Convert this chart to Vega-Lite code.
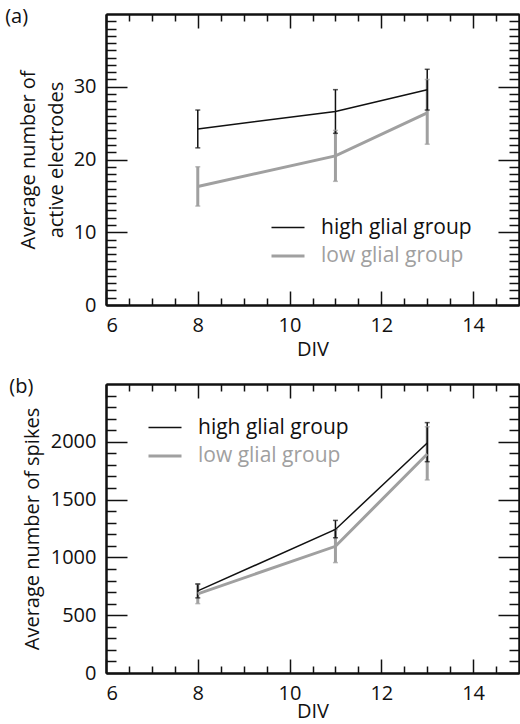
{
  "$schema": "https://vega.github.io/schema/vega-lite/v6.json",
  "padding": {"left": 5, "top": 7, "right": 0, "bottom": 0},
  "spacing": 18,
  "resolve": {"scale": {"color": "independent", "strokeWidth": "independent"}, "legend": {"color": "independent"}},
  "config": {
    "font": "Open Sans",
    "view": {"stroke": null},
    "axis": {
      "grid": false,
      "labelFont": "Open Sans",
      "labelFontSize": 20,
      "labelColor": "#111",
      "titleFont": "Open Sans",
      "titleFontSize": 20,
      "titleFontWeight": "normal",
      "titleColor": "#111",
      "titleLineHeight": 28,
      "domainColor": "#111",
      "domainWidth": 2,
      "tickColor": "#111",
      "tickWidth": 1.5
    },
    "legend": {
      "labelFont": "Open Sans",
      "labelFontSize": 21,
      "symbolType": "stroke",
      "symbolSize": 1089,
      "symbolStrokeWidth": 2,
      "labelOffset": 15,
      "rowPadding": -8,
      "title": null
    },
    "title": {"font": "Open Sans", "fontSize": 20, "fontWeight": "normal", "color": "#111"}
  },
  "datasets": {
    "rows": [
      {"panel": "a", "group": "low glial group", "div": 8, "mean": 16.3, "lo": 13.6, "hi": 19.0},
      {"panel": "a", "group": "low glial group", "div": 11, "mean": 20.5, "lo": 17.0, "hi": 24.0},
      {"panel": "a", "group": "low glial group", "div": 13, "mean": 26.4, "lo": 22.1, "hi": 31.0},
      {"panel": "a", "group": "high glial group", "div": 8, "mean": 24.2, "lo": 21.6, "hi": 26.8},
      {"panel": "a", "group": "high glial group", "div": 11, "mean": 26.6, "lo": 23.6, "hi": 29.6},
      {"panel": "a", "group": "high glial group", "div": 13, "mean": 29.6, "lo": 26.8, "hi": 32.4},
      {"panel": "b", "group": "low glial group", "div": 8, "mean": 685, "lo": 600, "hi": 770},
      {"panel": "b", "group": "low glial group", "div": 11, "mean": 1096, "lo": 955, "hi": 1240},
      {"panel": "b", "group": "low glial group", "div": 13, "mean": 1895, "lo": 1670, "hi": 2130},
      {"panel": "b", "group": "high glial group", "div": 8, "mean": 710, "lo": 650, "hi": 770},
      {"panel": "b", "group": "high glial group", "div": 11, "mean": 1242, "lo": 1170, "hi": 1320},
      {"panel": "b", "group": "high glial group", "div": 13, "mean": 1990, "lo": 1828, "hi": 2166}
    ]
  },
  "vconcat": [
    {
      "width": 413,
      "height": 291,
      "title": {"text": "(a)", "anchor": "start", "frame": "bounds", "offset": -14, "dx": -13},
      "data": {"name": "rows"},
      "transform": [{"filter": "datum.panel === 'a'"}],
      "resolve": {"axis": {"x": "independent", "y": "independent"}},
      "layer": [
        {
          "mark": {"type": "rule"},
          "encoding": {
            "x": {"field": "div", "type": "quantitative", "scale": {"domain": [6, 15], "nice": false, "zero": false},
              "axis": {"orient": "top", "labels": false, "title": null, "values": [6, 8, 10, 12, 14], "tickSize": -14}},
            "y": {"field": "lo", "type": "quantitative", "scale": {"domain": [0, 40], "nice": false},
              "axis": {"orient": "right", "labels": false, "title": null, "values": [0, 10, 20, 30], "tickSize": -21}},
            "y2": {"field": "hi"},
            "color": {"field": "group", "type": "nominal", "scale": {"domain": ["high glial group", "low glial group"], "range": ["#111111", "#a0a0a0"]}},
            "strokeWidth": {"field": "group", "type": "nominal", "scale": {"domain": ["high glial group", "low glial group"], "range": [1.5, 3]}, "legend": null}
          }
        },
        {
          "mark": {"type": "tick", "orient": "horizontal", "size": 5, "thickness": 1.5},
          "encoding": {
            "x": {"field": "div", "type": "quantitative",
              "axis": {"orient": "bottom", "labels": false, "title": null, "values": [6.5,7,7.5,8.5,9,9.5,10.5,11,11.5,12.5,13,13.5,14.5], "tickSize": -7}},
            "y": {"field": "lo", "type": "quantitative",
              "axis": {"orient": "left", "labels": false, "title": null, "values": [1,2,3,4,5,6,7,8,9,11,12,13,14,15,16,17,18,19,21,22,23,24,25,26,27,28,29,31,32,33,34,35,36,37,38,39], "tickSize": -10}},
            "color": {"field": "group", "type": "nominal"}
          }
        },
        {
          "mark": {"type": "tick", "orient": "horizontal", "size": 5, "thickness": 1.5},
          "encoding": {
            "x": {"field": "div", "type": "quantitative",
              "axis": {"orient": "top", "labels": false, "title": null, "values": [6.5,7,7.5,8.5,9,9.5,10.5,11,11.5,12.5,13,13.5,14.5], "tickSize": -7}},
            "y": {"field": "hi", "type": "quantitative",
              "axis": {"orient": "right", "labels": false, "title": null, "values": [1,2,3,4,5,6,7,8,9,11,12,13,14,15,16,17,18,19,21,22,23,24,25,26,27,28,29,31,32,33,34,35,36,37,38,39], "tickSize": -10}},
            "color": {"field": "group", "type": "nominal"}
          }
        },
        {
          "mark": {"type": "line"},
          "encoding": {
            "x": {"field": "div", "type": "quantitative", "title": "DIV",
              "axis": {"orient": "bottom", "labelPadding": 24, "values": [6, 8, 10, 12, 14], "format": "d", "tickSize": -14}},
            "y": {"field": "mean", "type": "quantitative", "title": ["Average number of", "active electrodes"],
              "axis": {"orient": "left", "labelPadding": 31, "titlePadding": 7, "values": [0, 10, 20, 30], "tickSize": -21}},
            "color": {"field": "group", "type": "nominal",
              "legend": {"orient": "none", "legendX": 164, "legendY": 196,
                "encode": {"labels": {"update": {"fill": {"signal": "datum.value === 'low glial group' ? '#a0a0a0' : '#111111'"}}}}}},
            "strokeWidth": {"field": "group", "type": "nominal", "legend": null}
          }
        }
      ]
    },
    {
      "width": 413,
      "height": 289,
      "title": {"text": "(b)", "anchor": "start", "frame": "bounds", "offset": -14, "dx": -13},
      "data": {"name": "rows"},
      "transform": [{"filter": "datum.panel === 'b'"}],
      "resolve": {"axis": {"x": "independent", "y": "independent"}},
      "layer": [
        {
          "mark": {"type": "rule"},
          "encoding": {
            "x": {"field": "div", "type": "quantitative", "scale": {"domain": [6, 15], "nice": false, "zero": false},
              "axis": {"orient": "top", "labels": false, "title": null, "values": [6, 8, 10, 12, 14], "tickSize": -14}},
            "y": {"field": "lo", "type": "quantitative", "scale": {"domain": [0, 2500], "nice": false},
              "axis": {"orient": "right", "labels": false, "title": null, "values": [0, 500, 1000, 1500, 2000], "tickSize": -21}},
            "y2": {"field": "hi"},
            "color": {"field": "group", "type": "nominal", "scale": {"domain": ["high glial group", "low glial group"], "range": ["#111111", "#a0a0a0"]}},
            "strokeWidth": {"field": "group", "type": "nominal", "scale": {"domain": ["high glial group", "low glial group"], "range": [1.5, 3]}, "legend": null}
          }
        },
        {
          "mark": {"type": "tick", "orient": "horizontal", "size": 5, "thickness": 1.5},
          "encoding": {
            "x": {"field": "div", "type": "quantitative",
              "axis": {"orient": "bottom", "labels": false, "title": null, "values": [6.5,7,7.5,8.5,9,9.5,10.5,11,11.5,12.5,13,13.5,14.5], "tickSize": -7}},
            "y": {"field": "lo", "type": "quantitative",
              "axis": {"orient": "left", "labels": false, "title": null, "values": [100,200,300,400,600,700,800,900,1100,1200,1300,1400,1600,1700,1800,1900,2100,2200,2300,2400], "tickSize": -10}},
            "color": {"field": "group", "type": "nominal"}
          }
        },
        {
          "mark": {"type": "tick", "orient": "horizontal", "size": 5, "thickness": 1.5},
          "encoding": {
            "x": {"field": "div", "type": "quantitative",
              "axis": {"orient": "top", "labels": false, "title": null, "values": [6.5,7,7.5,8.5,9,9.5,10.5,11,11.5,12.5,13,13.5,14.5], "tickSize": -7}},
            "y": {"field": "hi", "type": "quantitative",
              "axis": {"orient": "right", "labels": false, "title": null, "values": [100,200,300,400,600,700,800,900,1100,1200,1300,1400,1600,1700,1800,1900,2100,2200,2300,2400], "tickSize": -10}},
            "color": {"field": "group", "type": "nominal"}
          }
        },
        {
          "mark": {"type": "line"},
          "encoding": {
            "x": {"field": "div", "type": "quantitative", "title": "DIV",
              "axis": {"orient": "bottom", "labelPadding": 24, "titlePadding": -2, "values": [6, 8, 10, 12, 14], "format": "d", "tickSize": -14}},
            "y": {"field": "mean", "type": "quantitative", "title": "Average number of spikes",
              "axis": {"orient": "left", "labelPadding": 31, "titlePadding": 8, "format": "d", "values": [0, 500, 1000, 1500, 2000], "tickSize": -21}},
            "color": {"field": "group", "type": "nominal",
              "legend": {"orient": "none", "legendX": 41, "legendY": 26,
                "encode": {"labels": {"update": {"fill": {"signal": "datum.value === 'low glial group' ? '#a0a0a0' : '#111111'"}}}}}},
            "strokeWidth": {"field": "group", "type": "nominal", "legend": null}
          }
        }
      ]
    }
  ]
}
